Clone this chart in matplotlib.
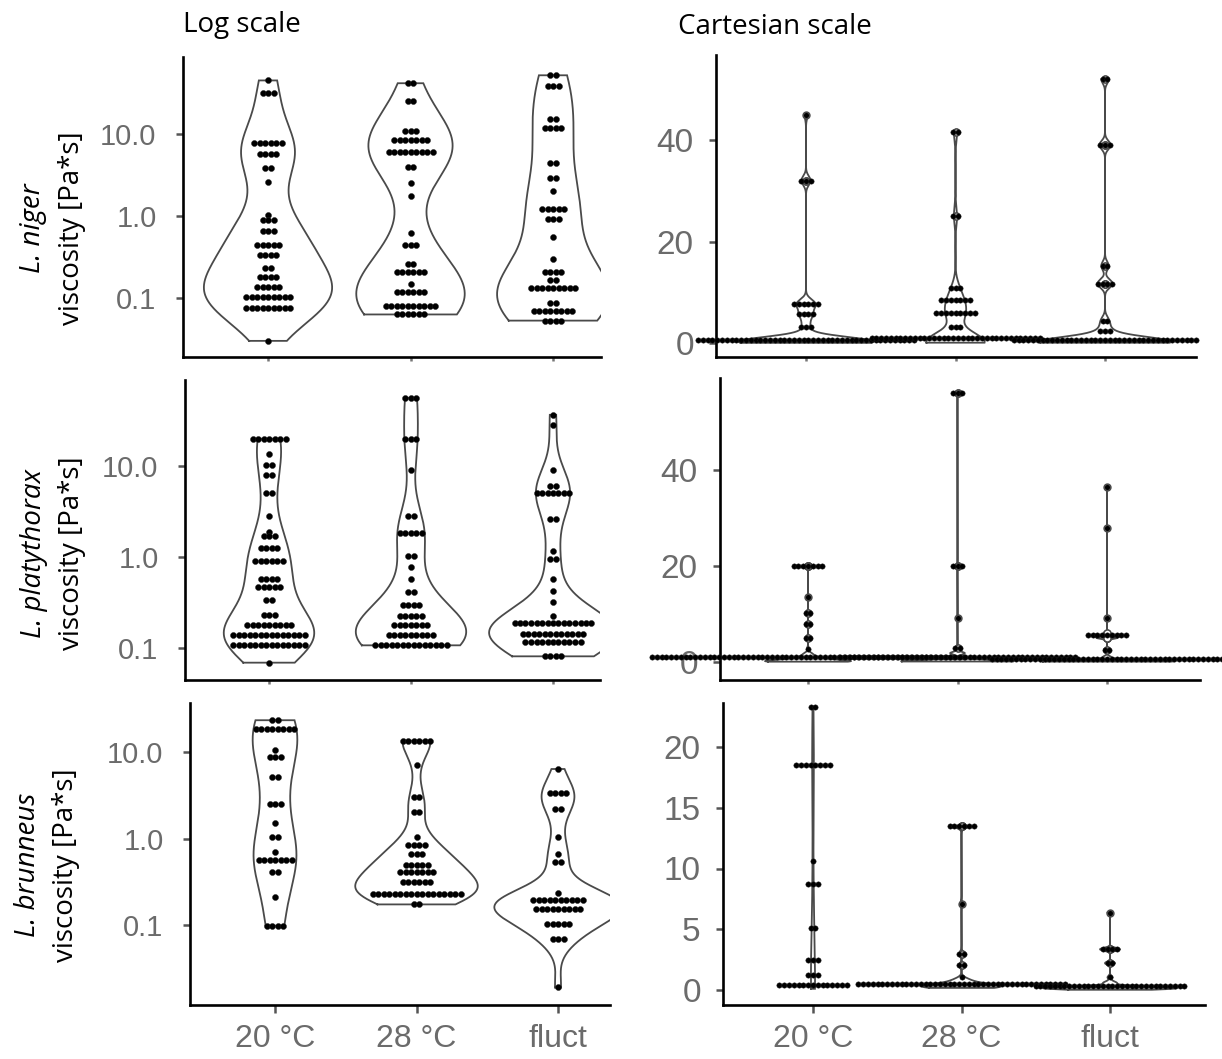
import numpy as np
import matplotlib
matplotlib.use("Agg")
import matplotlib.pyplot as plt
from matplotlib import mlab

# ---------------- data (level, number of dots) ----------------
groups = ["20 °C", "28 °C", "fluct"]
species = ["L. niger", "L. platythorax", "L. brunneus"]

niger_20_lvls = [45, 32, 7.7, 5.7, 3.8, 2.6, 1.04, 0.89, 0.65, 0.44, 0.33, 0.23, 0.18, 0.135, 0.104, 0.075, 0.030]
niger_20_cnts = [1, 3, 6, 4, 2, 1, 1, 3, 3, 5, 4, 2, 4, 5, 9, 9, 1]
niger_28_lvls = [41.6, 25, 10.9, 8.5, 6.0, 4.0, 2.5, 1.75, 0.62, 0.44, 0.26, 0.21, 0.15, 0.117, 0.081, 0.063]
niger_28_cnts = [2, 2, 3, 7, 9, 2, 1, 1, 1, 3, 2, 6, 1, 6, 10, 6]
niger_fl_lvls = [52, 39, 15.2, 11.7, 4.4, 2.9, 2.0, 1.23, 0.91, 0.56, 0.295, 0.21, 0.166, 0.134, 0.086, 0.069, 0.053]
niger_fl_cnts = [2, 3, 2, 4, 2, 2, 1, 5, 3, 1, 1, 4, 2, 9, 2, 8, 4]

platy_20_lvls = [19.9, 13.6, 10.3, 7.9, 5.1, 2.8, 1.9, 1.7, 1.25, 0.90, 0.57, 0.47, 0.34, 0.228, 0.18, 0.138, 0.107, 0.069]
platy_20_cnts = [7, 1, 2, 2, 2, 1, 1, 3, 4, 6, 4, 5, 2, 3, 9, 14, 14, 1]
platy_28_lvls = [56, 19.9, 9.1, 2.84, 1.85, 1.03, 0.78, 0.57, 0.41, 0.296, 0.226, 0.18, 0.138, 0.107]
platy_28_cnts = [3, 3, 1, 2, 5, 2, 1, 1, 2, 4, 5, 7, 9, 14]
platy_fl_lvls = [36.5, 27.9, 9.1, 6.1, 5.06, 2.6, 1.17, 0.94, 0.57, 0.42, 0.32, 0.226, 0.188, 0.142, 0.116, 0.081]
platy_fl_cnts = [1, 1, 1, 2, 7, 2, 1, 2, 1, 1, 1, 1, 15, 12, 11, 4]

brun_20_lvls = [23.3, 18.5, 10.6, 8.7, 5.1, 2.5, 1.5, 1.04, 0.69, 0.57, 0.41, 0.21, 0.098]
brun_20_cnts = [2, 8, 1, 3, 2, 3, 1, 2, 1, 7, 2, 1, 4]
brun_28_lvls = [13.5, 7.1, 2.99, 2.02, 1.04, 0.83, 0.66, 0.50, 0.415, 0.312, 0.229, 0.173]
brun_28_cnts = [6, 1, 2, 2, 1, 4, 3, 5, 7, 6, 17, 2]
brun_fl_lvls = [6.36, 3.35, 2.21, 1.04, 0.66, 0.54, 0.233, 0.195, 0.152, 0.103, 0.069, 0.019]
brun_fl_cnts = [1, 4, 2, 1, 1, 2, 1, 10, 9, 5, 3, 1]

log_ticks = [0.1, 1.0, 10.0]
log_ticklabels = ["0.1", "1.0", "10.0"]
cart_ticks = [[0, 20, 40], [0, 20, 40], [0, 5, 10, 15, 20]]

rows = [
    [(niger_20_lvls, niger_20_cnts), (niger_28_lvls, niger_28_cnts), (niger_fl_lvls, niger_fl_cnts)],
    [(platy_20_lvls, platy_20_cnts), (platy_28_lvls, platy_28_cnts), (platy_fl_lvls, platy_fl_cnts)],
    [(brun_20_lvls, brun_20_cnts), (brun_28_lvls, brun_28_cnts), (brun_fl_lvls, brun_fl_cnts)],
]

# ---------------- layout (pixels) ----------------
W, H = 1222, 1059
left_layout = [
    dict(l=183, r=601, t=57, b=357, cats=(268, 410, 553), yhi=(1, 134), ylo=(-1, 298)),
    dict(l=185, r=600, t=380, b=680, cats=(269, 411, 553), yhi=(1, 466), ylo=(-1, 648)),
    dict(l=190, r=610, t=703, b=1005, cats=(275, 416, 558), yhi=(1, 752), ylo=(-1, 925)),
]
right_layout = [
    dict(l=716, r=1196, t=55, b=357, cats=(806, 955, 1105), yhi=(40, 140), ylo=(0, 343)),
    dict(l=720, r=1200, t=378, b=680, cats=(808, 957, 1107), yhi=(40, 470), ylo=(0, 662)),
    dict(l=723, r=1205, t=703, b=1005, cats=(813, 958, 1110), yhi=(20, 747), ylo=(0, 990)),
]
ylab_pos = [(33, 72, 228), (34, 72, 553), (28, 66, 865)]

TICK_FONT = "Liberation Sans"
LAB_FONT = "Open Sans"
TICK_COL = "#6b6b6b"
VIO_COL = "#4a4a4a"

fig = plt.figure(figsize=(W / 100, H / 100), dpi=100)


def add_ax(L):
    ax = fig.add_axes([L["l"] / W, 1 - L["b"] / H, (L["r"] - L["l"]) / W, (L["b"] - L["t"]) / H])
    c1, c3 = L["cats"][0], L["cats"][2]
    ppx = (c3 - c1) / 2.0
    ax.set_xlim(1 - (c1 - L["l"]) / ppx, 3 + (L["r"] - c3) / ppx)
    (vh, ph), (vl, pl) = L["yhi"], L["ylo"]
    ppy = (pl - ph) / (vh - vl)
    ax.set_ylim(vl - (L["b"] - pl) / ppy, vh + (ph - L["t"]) / ppy)
    for s in ["top", "right"]:
        ax.spines[s].set_visible(False)
    for s in ["left", "bottom"]:
        ax.spines[s].set_linewidth(1.9)
        ax.spines[s].set_color("black")
    ax.set_facecolor("none")
    return ax, ppx, ppy


def nrd0(x):
    x = np.asarray(x, float)
    sd = x.std(ddof=1)
    q75, q25 = np.percentile(x, [75, 25])
    iqr = q75 - q25
    lo = min(sd, iqr / 1.34) if iqr > 0 else sd
    return 0.9 * lo * len(x) ** -0.2


def kde_curve(x):
    x = np.asarray(x, float)
    bw = nrd0(x)
    kde = mlab.GaussianKDE(x, bw_method=bw / x.std(ddof=1))
    y = np.linspace(x.min(), x.max(), 512)
    return y, kde.evaluate(y)


def draw_violins(ax, datasets):
    curves = [kde_curve(d) for d in datasets]
    gmax = max(d.max() for _, d in curves)
    for pos, (y, d) in zip([1, 2, 3], curves):
        hw = 0.45 * d / gmax
        xs = np.concatenate([pos - hw, (pos + hw)[::-1], [pos - hw[0]]])
        ys = np.concatenate([y, y[::-1], [y[0]]])
        ax.plot(xs, ys, color=VIO_COL, lw=1.3, zorder=2, solid_joinstyle="miter")


def dotdensity(vals, bw):
    v = np.sort(np.asarray(vals, float))
    centers, counts = [], []
    i = 0
    while i < len(v):
        j = i
        while j < len(v) and v[j] <= v[i] + bw:
            j += 1
        centers.append((v[i] + v[j - 1]) / 2)
        counts.append(j - i)
        i = j
    return centers, counts


def draw_rows(ax, pos, centers, counts, spacing, size):
    xs, ys = [], []
    for c, n in zip(centers, counts):
        off = (np.arange(n) - (n - 1) / 2.0) * spacing
        xs.extend(pos + off)
        ys.extend([c] * n)
    ax.scatter(xs, ys, s=size, color="black", edgecolors="#222222", linewidths=0.3,
               zorder=3, clip_on=False)


for r in range(3):
    # ---- log scale panel ----
    L = left_layout[r]
    ax, ppx, ppy = add_ax(L)
    raw = [np.repeat(lv, ct) for lv, ct in rows[r]]
    draw_violins(ax, [np.log10(d) for d in raw])
    for k, (lv, ct) in enumerate(rows[r]):
        draw_rows(ax, k + 1, np.log10(lv), ct, 5.5 / ppx, 19)
    ax.set_yticks(np.log10(log_ticks))
    ax.set_yticklabels(log_ticklabels)
    ax.tick_params(axis="y", length=5, width=1.8, color="#555555", pad=14,
                   labelsize=21, labelcolor=TICK_COL)
    ax.set_xticks([1, 2, 3])
    if r == 2:
        ax.set_xticklabels(groups)
        ax.tick_params(axis="x", length=6, width=1.8, color="#555555", pad=8,
                       labelsize=23, labelcolor=TICK_COL)
    else:
        ax.set_xticklabels(["", "", ""])
        ax.tick_params(axis="x", length=3, width=1.8, color="#777777", pad=2)
    for t in ax.get_xticklabels() + ax.get_yticklabels():
        t.set_fontfamily(TICK_FONT)

    # ---- cartesian scale panel ----
    L = right_layout[r]
    ax2, ppx2, ppy2 = add_ax(L)
    draw_violins(ax2, raw)
    ax2.boxplot(raw, positions=[1, 2, 3], widths=0.05, manage_ticks=False,
                showbox=False, showcaps=False,
                medianprops=dict(linewidth=0),
                whiskerprops=dict(linewidth=0),
                flierprops=dict(marker="o", markersize=5, markerfacecolor="white",
                                markeredgecolor=VIO_COL, markeredgewidth=1.0),
                zorder=2.5)
    allv = np.concatenate(raw)
    bw = (allv.max() - allv.min()) / 30.0
    for k, d in enumerate(raw):
        cen, cnt = dotdensity(d, bw)
        draw_rows(ax2, k + 1, cen, cnt, 4.8 / ppx2, 15)
    ax2.set_yticks(cart_ticks[r])
    ax2.set_yticklabels([str(v) for v in cart_ticks[r]])
    ax2.tick_params(axis="y", length=5, width=1.8, color="#555555", pad=11,
                    labelsize=24, labelcolor=TICK_COL)
    ax2.set_xticks([1, 2, 3])
    if r == 2:
        ax2.set_xticklabels(groups)
        ax2.tick_params(axis="x", length=6, width=1.8, color="#555555", pad=8,
                        labelsize=23, labelcolor=TICK_COL)
    else:
        ax2.set_xticklabels(["", "", ""])
        ax2.tick_params(axis="x", length=3, width=1.8, color="#777777", pad=2)
    for t in ax2.get_xticklabels() + ax2.get_yticklabels():
        t.set_fontfamily(TICK_FONT)

    # ---- y labels ----
    x1, x2, yc = ylab_pos[r]
    fig.text(x1 / W, 1 - yc / H, species[r], rotation=90, ha="center", va="center",
             fontsize=20, style="italic", family=LAB_FONT, color="black")
    fig.text(x2 / W, 1 - yc / H, "viscosity [Pa*s]", rotation=90, ha="center", va="center",
             fontsize=20, family=LAB_FONT, color="black")

fig.text(183 / W, 1 - 25 / H, "Log scale", ha="left", va="center", fontsize=20,
         family=LAB_FONT, color="black")
fig.text(678 / W, 1 - 27 / H, "Cartesian scale", ha="left", va="center", fontsize=20,
         family=LAB_FONT, color="black")

fig.savefig("out.png", dpi=100, facecolor="white")
